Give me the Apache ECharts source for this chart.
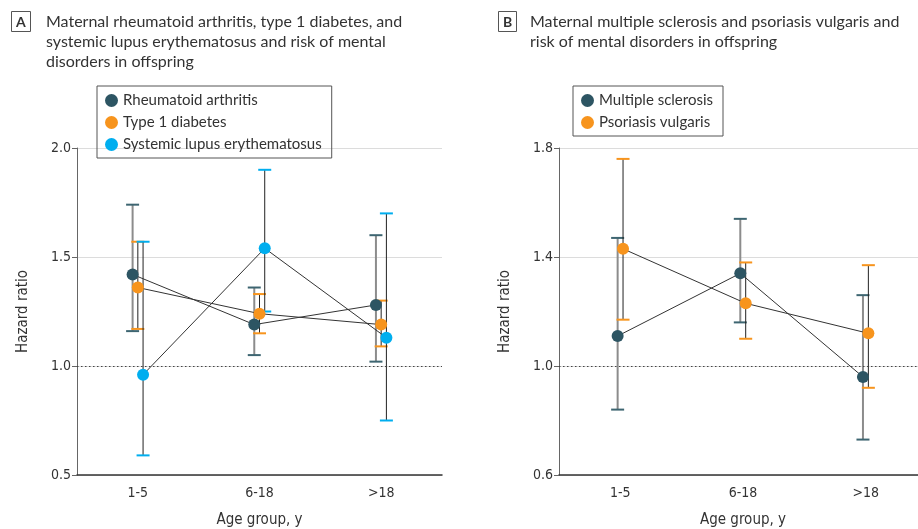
<!DOCTYPE html>
<html>
<head>
<meta charset="utf-8">
<script src="https://cdn.jsdelivr.net/npm/echarts@6/dist/echarts.min.js"></script>
<style>
html,body{margin:0;padding:0;background:#fff;}
#chart{width:918px;height:529px;}
</style>
</head>
<body>
<div id="chart"></div>
<script>
// ---- Data ----
const categories = ['1-5', '6-18', '>18'];

const raHR   = [1.42, 1.19, 1.28];
const raLow  = [1.16, 1.05, 1.02];
const raHigh = [1.74, 1.36, 1.60];

const t1dHR   = [1.36, 1.24, 1.19];
const t1dLow  = [1.17, 1.15, 1.09];
const t1dHigh = [1.57, 1.33, 1.30];

const sleHR   = [0.96, 1.54, 1.13];
const sleLow  = [0.59, 1.25, 0.75];
const sleHigh = [1.57, 1.90, 1.70];

const msHR   = [1.11, 1.34, 0.96];
const msLow  = [0.84, 1.16, 0.73];
const msHigh = [1.47, 1.54, 1.26];

const psHR   = [1.43, 1.23, 1.12];
const psLow  = [1.17, 1.10, 0.92];
const psHigh = [1.76, 1.38, 1.37];

const yTicksA = [0.5, 1.0, 1.5, 2.0];
const yTicksB = [0.6, 1.0, 1.4, 1.8];

// ---- Styles ----
const DARK = '#2d5563', DARKCAP = '#3d6571', ORANGE = '#f7941d', BLUE = '#00aeef';
const TXT = '#333';
const FONT = 'Lato, "Noto Sans", sans-serif';
const NARROW = '"DejaVu Sans Condensed", "Liberation Sans Narrow", "Roboto Condensed", Roboto, sans-serif';

const chart = echarts.init(document.getElementById('chart'));

function pos(i, off) { return i + 1 + off; }

function errData(low, high, off) {
  return low.map((l, i) => [pos(i, off), l, high[i]]);
}
function ptData(hr, off) {
  return hr.map((v, i) => [pos(i, off), v]);
}
function errRender(lineColor, lineWidth, capColor) {
  return function (params, api) {
    const x = api.value(0), lo = api.value(1), hi = api.value(2);
    const a = api.coord([x, lo]), b = api.coord([x, hi]);
    const hw = 6.5;
    return {
      type: 'group',
      children: [
        { type: 'line', shape: { x1: a[0], y1: a[1], x2: b[0], y2: b[1] }, style: { stroke: lineColor, lineWidth: lineWidth } },
        { type: 'line', shape: { x1: b[0] - hw, y1: b[1], x2: b[0] + hw, y2: b[1] }, style: { stroke: capColor, lineWidth: 2 } },
        { type: 'line', shape: { x1: a[0] - hw, y1: a[1], x2: a[0] + hw, y2: a[1] }, style: { stroke: capColor, lineWidth: 2 } }
      ]
    };
  };
}
function errSeries(name, low, high, off, xi, yi, lineColor, lw, capColor) {
  return {
    type: 'custom', name: name + ' CI', xAxisIndex: xi, yAxisIndex: yi, z: 2, silent: true,
    renderItem: errRender(lineColor, lw, capColor),
    encode: { x: 0, y: [1, 2] },
    data: errData(low, high, off)
  };
}
function ptSeries(name, hr, off, xi, yi, color) {
  return {
    type: 'line', name: name, xAxisIndex: xi, yAxisIndex: yi, z: 3,
    data: ptData(hr, off),
    symbol: 'circle', symbolSize: 12, showSymbol: true,
    itemStyle: { color: color, borderWidth: 0 },
    lineStyle: { color: '#333', width: 1 },
    animation: false
  };
}
function refLine(xi, yi) {
  return {
    type: 'line', xAxisIndex: xi, yAxisIndex: yi, data: [], z: 1, silent: true,
    markLine: {
      silent: true, symbol: 'none', label: { show: false },
      lineStyle: { color: '#444', type: [1.5, 2.5], width: 1 },
      data: [{ yAxis: 1 }]
    }
  };
}

const offA = [-0.043, 0, 0.043];
const offB = [-0.022, 0.022];

function catAxis(gi) {
  return {
    type: 'category', gridIndex: gi, data: categories, boundaryGap: true,
    axisLine: { lineStyle: { color: '#333', width: 1.5 } },
    axisTick: { alignWithLabel: true, length: 5, lineStyle: { color: '#555' } },
    axisLabel: { color: TXT, fontFamily: NARROW, fontSize: 14, margin: 11 },
    splitLine: { show: false },
    name: 'Age group, y', nameLocation: 'middle', nameGap: 38,
    nameTextStyle: { color: TXT, fontFamily: NARROW, fontSize: 15 }
  };
}
function valX(gi) {
  return { type: 'value', gridIndex: gi, min: 0.5, max: 3.5, show: false, splitLine: { show: false } };
}
function yAx(gi, min, max, interval) {
  return {
    type: 'value', gridIndex: gi, min: min, max: max, interval: interval,
    axisLine: { show: true, lineStyle: { color: '#666', width: 1 } },
    axisTick: { show: true, length: 5, lineStyle: { color: '#666' } },
    axisLabel: { color: TXT, fontFamily: NARROW, fontSize: 14, margin: 6, formatter: v => v.toFixed(1) },
    splitLine: { show: true, lineStyle: { color: '#dcdcdc', width: 1 } },
    name: 'Hazard ratio', nameLocation: 'middle', nameGap: 46, nameRotate: 90,
    nameTextStyle: { color: TXT, fontFamily: NARROW, fontSize: 15 }
  };
}

const option = {
  backgroundColor: '#fff',
  animation: false,
  textStyle: { fontFamily: FONT },
  title: [
    { text: 'A', left: 11, top: 11, padding: [4, 5, 3, 5], borderColor: '#555', borderWidth: 1,
      textStyle: { fontFamily: FONT, fontSize: 14, fontWeight: 'bold', color: TXT } },
    { text: 'Maternal rheumatoid arthritis, type 1 diabetes, and\nsystemic lupus erythematosus and risk of mental\ndisorders in offspring',
      left: 46, top: 12, padding: 0,
      textStyle: { fontFamily: FONT, fontSize: 16, fontWeight: 'normal', color: TXT, lineHeight: 20 } },
    { text: 'B', left: 498, top: 11, padding: [4, 5, 3, 5], borderColor: '#555', borderWidth: 1,
      textStyle: { fontFamily: FONT, fontSize: 14, fontWeight: 'bold', color: TXT } },
    { text: 'Maternal multiple sclerosis and psoriasis vulgaris and\nrisk of mental disorders in offspring',
      left: 530, top: 12, padding: 0,
      textStyle: { fontFamily: FONT, fontSize: 16, fontWeight: 'normal', color: TXT, lineHeight: 20 } }
  ],
  legend: [
    { data: ['Rheumatoid arthritis', 'Type 1 diabetes', 'Systemic lupus erythematosus'],
      orient: 'vertical', left: 97, top: 86, padding: [7, 10, 6, 8], itemGap: 7,
      borderColor: '#555', borderWidth: 1, icon: 'circle', itemWidth: 13, itemHeight: 13,
      textStyle: { fontFamily: FONT, fontSize: 15, color: TXT }, selectedMode: false },
    { data: ['Multiple sclerosis', 'Psoriasis vulgaris'],
      orient: 'vertical', left: 573, top: 86, padding: [7, 10, 6, 8], itemGap: 7,
      borderColor: '#555', borderWidth: 1, icon: 'circle', itemWidth: 13, itemHeight: 13,
      textStyle: { fontFamily: FONT, fontSize: 15, color: TXT }, selectedMode: false }
  ],
  grid: [
    { left: 77, top: 148, right: 476, bottom: 54, outerBoundsMode: 'none', containLabel: false },
    { left: 559, top: 148, right: -9, bottom: 54, outerBoundsMode: 'none', containLabel: false }
  ],
  xAxis: [catAxis(0), valX(0), catAxis(1), valX(1)],
  yAxis: [yAx(0, yTicksA[0], yTicksA[yTicksA.length - 1], 0.5), yAx(1, yTicksB[0], yTicksB[yTicksB.length - 1], 0.4)],
  series: [
    refLine(1, 0),
    refLine(3, 1),
    errSeries('Rheumatoid arthritis', raLow, raHigh, offA[0], 1, 0, '#8c8c8c', 2, DARKCAP),
    errSeries('Type 1 diabetes', t1dLow, t1dHigh, offA[1], 1, 0, '#222', 1, ORANGE),
    errSeries('Systemic lupus erythematosus', sleLow, sleHigh, offA[2], 1, 0, '#222', 1, BLUE),
    ptSeries('Rheumatoid arthritis', raHR, offA[0], 1, 0, DARK),
    ptSeries('Type 1 diabetes', t1dHR, offA[1], 1, 0, ORANGE),
    ptSeries('Systemic lupus erythematosus', sleHR, offA[2], 1, 0, BLUE),
    errSeries('Multiple sclerosis', msLow, msHigh, offB[0], 3, 1, '#8c8c8c', 2, DARKCAP),
    errSeries('Psoriasis vulgaris', psLow, psHigh, offB[1], 3, 1, '#222', 1, ORANGE),
    ptSeries('Multiple sclerosis', msHR, offB[0], 3, 1, DARK),
    ptSeries('Psoriasis vulgaris', psHR, offB[1], 3, 1, ORANGE)
  ]
};
chart.setOption(option);
</script>
</body>
</html>
